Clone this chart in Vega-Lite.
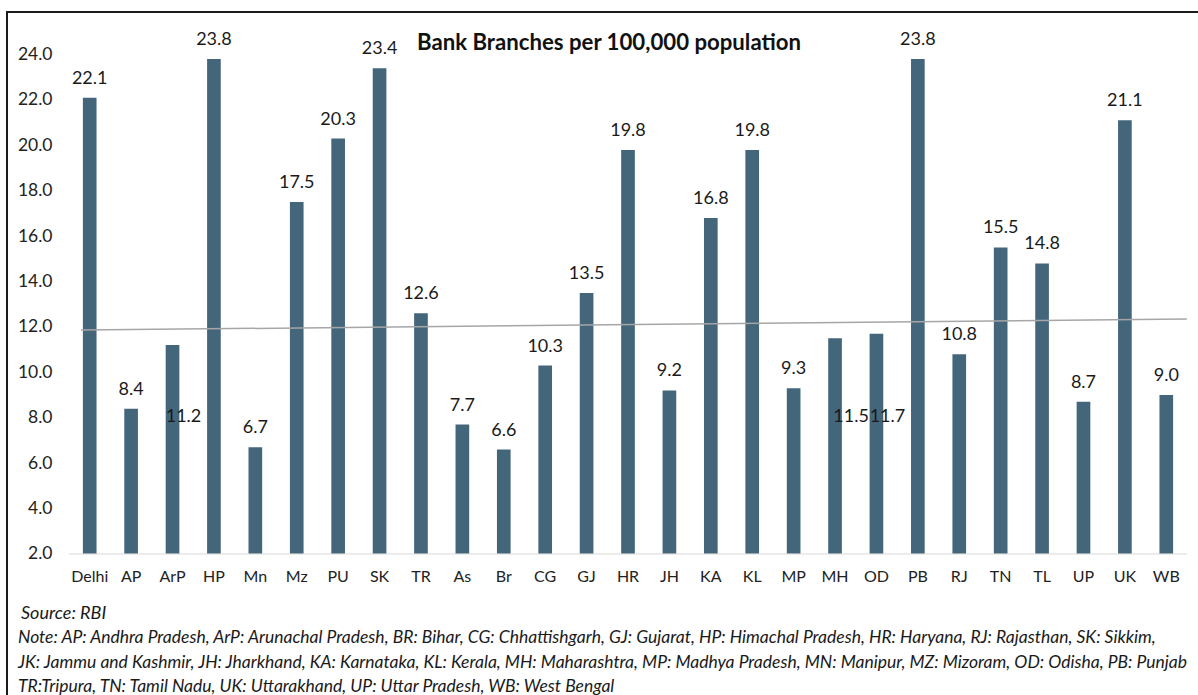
{
  "$schema": "https://vega.github.io/schema/vega-lite/v6.json",
  "width": 1242,
  "height": 700,
  "padding": {"left": 7, "top": 12, "right": 0, "bottom": 0},
  "autosize": {"type": "pad"},
  "background": "white",
  "config": {
    "view": {"stroke": "#1a1a1a", "strokeWidth": 2},
    "font": "Lato",
    "axisX": {"labelFont": "Lato", "labelFontSize": 16, "labelColor": "#222222", "labelAngle": 0, "labelPadding": 17, "domain": false, "ticks": false, "tickSize": 0, "grid": false, "title": null, "offset": -161},
    "axisY": {"labelFont": "Lato", "labelFontSize": 17.5, "labelColor": "#222222", "domain": false, "ticks": false, "tickSize": 0, "grid": false, "title": null, "offset": -45, "labelPadding": 0}
  },
  "title": {"text": "Bank Branches per 100,000 population", "font": "Lato", "fontSize": 22.2, "fontWeight": "bold", "color": "#111111", "anchor": "middle", "offset": -42, "dx": -19},
  "datasets": {
    "branches": [
      {"state": "Delhi", "value": 22.1},
      {"state": "AP", "value": 8.4},
      {"state": "ArP", "value": 11.2},
      {"state": "HP", "value": 23.8},
      {"state": "Mn", "value": 6.7},
      {"state": "Mz", "value": 17.5},
      {"state": "PU", "value": 20.3},
      {"state": "SK", "value": 23.4},
      {"state": "TR", "value": 12.6},
      {"state": "As", "value": 7.7},
      {"state": "Br", "value": 6.6},
      {"state": "CG", "value": 10.3},
      {"state": "GJ", "value": 13.5},
      {"state": "HR", "value": 19.8},
      {"state": "JH", "value": 9.2},
      {"state": "KA", "value": 16.8},
      {"state": "KL", "value": 19.8},
      {"state": "MP", "value": 9.3},
      {"state": "MH", "value": 11.5},
      {"state": "OD", "value": 11.7},
      {"state": "PB", "value": 23.8},
      {"state": "RJ", "value": 10.8},
      {"state": "TN", "value": 15.5},
      {"state": "TL", "value": 14.8},
      {"state": "UP", "value": 8.7},
      {"state": "UK", "value": 21.1},
      {"state": "WB", "value": 9.0}
    ],
    "trend": [
      {"pos": 0.29, "value": 11.86},
      {"pos": 27.0, "value": 12.35}
    ]
  },
  "resolve": {"scale": {"x": "independent"}},
  "layer": [
    {
      "data": {"name": "branches"},
      "encoding": {
        "x": {"field": "state", "type": "nominal", "sort": null,
          "scale": {"domain": ["Delhi","AP","ArP","HP","Mn","Mz","PU","SK","TR","As","Br","CG","GJ","HR","JH","KA","KL","MP","MH","OD","PB","RJ","TN","TL","UP","UK","WB"], "range": [62, 1180], "paddingInner": 0.67, "paddingOuter": 0.335, "round": false}},
        "y": {"field": "value", "type": "quantitative",
          "scale": {"domain": [-4.963, 25.874], "nice": false, "zero": false},
          "axis": {"values": [2,4,6,8,10,12,14,16,18,20,22,24], "format": ".1f"}}
      },
      "layer": [
        {
          "mark": {"type": "bar", "color": "#44667b"},
          "encoding": {"y2": {"datum": 2}}
        },
        {
          "transform": [{"filter": {"not": {"field": "state", "oneOf": ["ArP", "MH", "OD"]}}}],
          "mark": {"type": "text", "font": "Lato", "fontSize": 18, "color": "#1a1a1a", "baseline": "alphabetic", "dy": -14},
          "encoding": {"text": {"field": "value", "type": "quantitative", "format": ".1f"}}
        },
        {
          "transform": [{"filter": {"field": "state", "oneOf": ["ArP", "OD"]}}],
          "mark": {"type": "text", "font": "Lato", "fontSize": 18, "color": "#1a1a1a", "baseline": "alphabetic", "dx": 11},
          "encoding": {
            "y": {"datum": 7.81, "type": "quantitative"},
            "text": {"field": "value", "type": "quantitative", "format": ".1f"}
          }
        },
        {
          "transform": [{"filter": {"field": "state", "oneOf": ["MH"]}}],
          "mark": {"type": "text", "font": "Lato", "fontSize": 18, "color": "#1a1a1a", "baseline": "alphabetic", "dx": 16},
          "encoding": {
            "y": {"datum": 7.81, "type": "quantitative"},
            "text": {"field": "value", "type": "quantitative", "format": ".1f"}
          }
        }
      ]
    },
    {
      "layer": [
        {
          "data": {"values": [{}]},
          "mark": {"type": "rule", "color": "#d9d9d9", "strokeWidth": 1},
          "encoding": {
            "x": {"datum": 0, "type": "quantitative", "scale": {"domain": [-1.4976, 28.502], "nice": false, "zero": false}, "axis": null},
            "x2": {"datum": 27},
            "y": {"datum": 2, "type": "quantitative"}
          }
        },
        {
          "data": {"name": "trend"},
          "mark": {"type": "line", "color": "#a6a6a6", "strokeWidth": 1.5},
          "encoding": {
            "x": {"field": "pos", "type": "quantitative", "scale": {"domain": [-1.4976, 28.502], "nice": false, "zero": false}, "axis": null},
            "y": {"field": "value", "type": "quantitative"}
          }
        },
        {
          "data": {"values": [{}]},
          "mark": {"type": "text", "font": "Lato", "fontSize": 18, "fontStyle": "italic", "color": "#1a1a1a", "align": "left", "baseline": "middle", "text": "Source: RBI"},
          "encoding": {
            "x": {"datum": -1.159, "type": "quantitative", "scale": {"domain": [-1.4976, 28.502], "nice": false, "zero": false}, "axis": null},
            "y": {"datum": -0.643, "type": "quantitative"}
          }
        },
        {
          "data": {"values": [{}]},
          "mark": {"type": "text", "font": "Lato", "fontSize": 17.5, "fontStyle": "italic", "color": "#1a1a1a", "align": "left", "baseline": "middle", "lineHeight": 24.5,
            "text": ["Note: AP: Andhra Pradesh, ArP: Arunachal Pradesh, BR: Bihar, CG: Chhattishgarh, GJ: Gujarat, HP: Himachal Pradesh, HR: Haryana, RJ: Rajasthan, SK: Sikkim,", "JK: Jammu and Kashmir, JH: Jharkhand, KA: Karnataka, KL: Kerala, MH: Maharashtra, MP: Madhya Pradesh, MN: Manipur, MZ: Mizoram, OD: Odisha, PB: Punjab", "TR:Tripura, TN: Tamil Nadu, UK: Uttarakhand, UP: Uttar Pradesh, WB: West Bengal"]},
          "encoding": {
            "x": {"datum": -1.232, "type": "quantitative", "scale": {"domain": [-1.4976, 28.502], "nice": false, "zero": false}, "axis": null},
            "y": {"datum": -1.72, "type": "quantitative"}
          }
        }
      ]
    }
  ]
}
